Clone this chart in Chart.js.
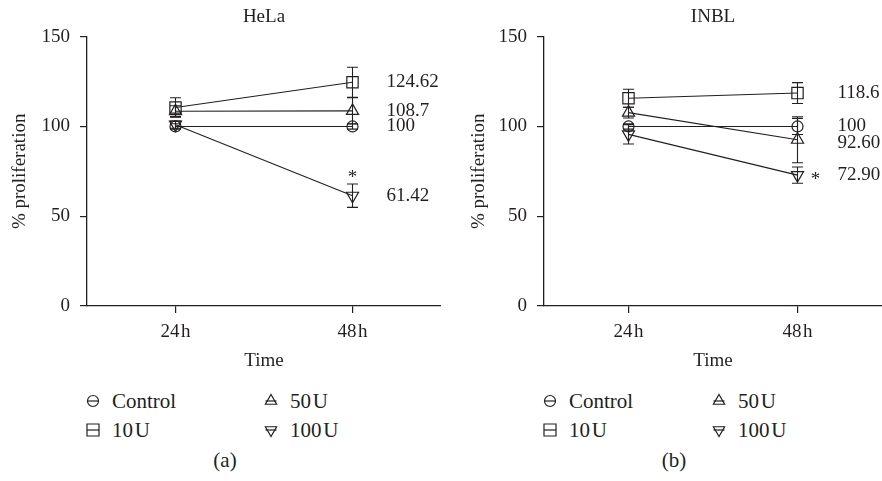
<!DOCTYPE html>
<html>
<head>
<meta charset="utf-8">
<script src="https://cdn.jsdelivr.net/npm/chart.js@4.4.1/dist/chart.umd.min.js"></script>
<style>
  body { margin: 0; background: #fff; width: 882px; height: 481px; position: relative; overflow: hidden;
         font-family: 'Liberation Serif', serif; color: #231f20; }
  .panel { position: absolute; top: 0; width: 441px; height: 380px; }
  .txt { position: absolute; font-size: 21px; line-height: 22px; white-space: nowrap; transform: translateY(-50%); }
  .mk { position: absolute; width: 20px; height: 20px; }
</style>
</head>
<body>
<div class="panel" style="left:0"><canvas id="chartHela" width="441" height="380"></canvas></div>
<div class="panel" style="left:441px"><canvas id="chartInbl" width="441" height="380"></canvas></div>
<div id="legends"></div>
<script>
const timeLabels = ['24\u200ah', '48\u200ah'];
const timePos = [1, 3];
const seriesNames = ['Control', '10\u200aU', '50\u200aU', '100\u200aU'];

// HeLa
const helaControl = [100, 100];
const hela10U = [110.6, 124.62];
const hela50U = [108.5, 108.7];
const hela100U = [101, 61.42];
const helaControlErr = [1.5, 1.5];
const hela10UErr = [5.4, 8.4];
const hela50UErr = [3, 7.3];
const hela100UErr = [2, 6.5];
const helaEndLabels = ['100', '124.62', '108.7', '61.42'];
const helaStarSeries = [3];
const helaStarTime = [1];

// INBL
const inblControl = [100, 100];
const inbl10U = [115.7, 118.6];
const inbl50U = [107.7, 92.6];
const inbl100U = [95.6, 72.9];
const inblControlErr = [1.5, 4.5];
const inbl10UErr = [5, 5.8];
const inbl50UErr = [3, 12.8];
const inbl100UErr = [5.4, 4.5];
const inblEndLabels = ['100', '118.6', '92.60', '72.90'];
const inblStarSeries = [3];
const inblStarTime = [1];

const ink = '#231f20';
const FONT = "'Liberation Serif', serif";
const markers = [
  { pointStyle: 'circle', radius: 5.5, rotation: 0 },
  { pointStyle: 'rect', radius: 8, rotation: 0 },
  { pointStyle: 'triangle', radius: 7, rotation: 0 },
  { pointStyle: 'triangle', radius: 7, rotation: 180 }
];

const extrasPlugin = {
  id: 'extras',
  afterDatasetsDraw(chart, args, opts) {
    const ctx = chart.ctx;
    const xs = chart.scales.x, ys = chart.scales.y;
    ctx.save();
    ctx.strokeStyle = ink;
    ctx.lineWidth = 1.1;
    // error bars
    chart.data.datasets.forEach((ds, i) => {
      ds.data.forEach((p, j) => {
        const e = opts.errors[i][j];
        const px = xs.getPixelForValue(p.x);
        const top = ys.getPixelForValue(p.y + e);
        const bot = ys.getPixelForValue(p.y - e);
        ctx.beginPath();
        ctx.moveTo(px, top); ctx.lineTo(px, bot);
        ctx.moveTo(px - 5.5, top); ctx.lineTo(px + 5.5, top);
        ctx.moveTo(px - 5.5, bot); ctx.lineTo(px + 5.5, bot);
        ctx.stroke();
      });
    });
    // end-of-line value labels
    ctx.fillStyle = ink;
    ctx.font = '19px ' + FONT;
    ctx.textAlign = 'left';
    ctx.textBaseline = 'middle';
    chart.data.datasets.forEach((ds, i) => {
      const last = ds.data[ds.data.length - 1];
      ctx.fillText(opts.endLabels[i],
        xs.getPixelForValue(last.x) + opts.labelDx,
        ys.getPixelForValue(last.y) + (opts.labelDy[i] || 0));
    });
    // significance stars
    ctx.textAlign = 'center';
    opts.starSeries.forEach((s, k) => {
      const p = chart.data.datasets[s].data[opts.starTime[k]];
      ctx.fillText('*', xs.getPixelForValue(p.x) + opts.starDx, ys.getPixelForValue(p.y) + opts.starDy);
    });
    ctx.restore();
  }
};

function makeChart(id, title, series, errors, endLabels, starSeries, starTime, yWidth, yTitlePad, extra) {
  const datasets = series.map((vals, i) => ({
    label: seriesNames[i],
    data: vals.map((v, j) => ({ x: timePos[j], y: v })),
    borderColor: ink,
    borderWidth: 1.1,
    pointStyle: markers[i].pointStyle,
    pointRadius: markers[i].radius,
    pointRotation: markers[i].rotation,
    pointBorderColor: ink,
    pointBackgroundColor: 'rgba(0,0,0,0)',
    pointBorderWidth: 1.2,
    tension: 0,
    fill: false,
    clip: false
  }));
  return new Chart(document.getElementById(id), {
    type: 'line',
    data: { datasets },
    options: {
      responsive: false,
      animation: false,
      events: [],
      layout: { autoPadding: false, padding: 0 },
      plugins: {
        legend: { display: false },
        tooltip: { enabled: false },
        title: {
          display: true, text: title, color: ink, fullSize: false,
          font: { family: FONT, size: 19, weight: 'normal' },
          padding: { top: 5.6, bottom: 8.3 }
        },
        extras: Object.assign({ errors, endLabels, starSeries, starTime }, extra)
      },
      scales: {
        x: {
          type: 'linear', min: 0, max: 4,
          afterBuildTicks: s => { s.ticks = timePos.map(v => ({ value: v })); },
          afterFit: s => { s.height = 74; s.paddingLeft = 0; s.paddingRight = 0; },
          ticks: {
            color: ink, padding: 8, maxRotation: 0,
            font: { family: FONT, size: 19 },
            callback: v => timeLabels[timePos.indexOf(v)]
          },
          grid: { drawOnChartArea: false, drawTicks: true, tickLength: 7, color: ink, lineWidth: 1.2 },
          border: { display: true, color: ink, width: 1.3 },
          title: { display: true, text: 'Time', color: ink, font: { family: FONT, size: 19 }, padding: { top: 0, bottom: 7.6 } }
        },
        y: {
          min: 0, max: 150,
          afterFit: s => { s.width = yWidth; },
          ticks: { stepSize: 50, color: ink, padding: 10, font: { family: FONT, size: 19 } },
          grid: { drawOnChartArea: false, drawTicks: true, tickLength: 7, color: ink, lineWidth: 1.2 },
          border: { display: true, color: ink, width: 1.3 },
          title: { display: true, text: '% proliferation', color: ink, font: { family: FONT, size: 19 }, padding: { top: yTitlePad, bottom: 0 } }
        }
      }
    },
    plugins: [extrasPlugin]
  });
}

makeChart('chartHela', 'HeLa',
  [helaControl, hela10U, hela50U, hela100U],
  [helaControlErr, hela10UErr, hela50UErr, hela100UErr],
  helaEndLabels, helaStarSeries, helaStarTime, 87, 8.6,
  { labelDx: 34, labelDy: [0, 0, 0, 0], starDx: 0, starDy: -18 });

makeChart('chartInbl', 'INBL',
  [inblControl, inbl10U, inbl50U, inbl100U],
  [inblControlErr, inbl10UErr, inbl50UErr, inbl100UErr],
  inblEndLabels, inblStarSeries, inblStarTime, 103, 26.6,
  { labelDx: 40, labelDy: [0, 0, 3, 0], starDx: 18, starDy: 5 });

// legends and captions
const legendPanels = [
  { left: 0, cols: [93, 271], caption: '(a)', capX: 225 },
  { left: 441, cols: [109, 278], caption: '(b)', capX: 233 }
];
const legendRows = [401, 430];
const legendSlot = [[0, 0], [0, 1], [1, 0], [1, 1]]; // [col,row] for each series
const legendMarkers = [
  { pointStyle: 'circle', radius: 5.5, rotation: 0, half: 5.5 },
  { pointStyle: 'rect', radius: 8.5, rotation: 0, half: 6 },
  { pointStyle: 'triangle', radius: 6.5, rotation: 0, half: 5.5 },
  { pointStyle: 'triangle', radius: 6.5, rotation: 180, half: 5.5 }
];
const host = document.getElementById('legends');
legendPanels.forEach(p => {
  seriesNames.forEach((name, i) => {
    const cx = p.left + p.cols[legendSlot[i][0]];
    const cy = legendRows[legendSlot[i][1]];
    const c = document.createElement('canvas');
    c.className = 'mk'; c.width = 20; c.height = 20;
    c.style.left = (cx - 10) + 'px'; c.style.top = (cy - 10) + 'px';
    host.appendChild(c);
    const g = c.getContext('2d');
    g.strokeStyle = ink; g.fillStyle = 'rgba(0,0,0,0)'; g.lineWidth = 1.2;
    const m = legendMarkers[i];
    Chart.helpers.drawPoint(g, { pointStyle: m.pointStyle, radius: m.radius, rotation: m.rotation, borderWidth: 1.2 }, 10, 10);
    g.beginPath(); g.moveTo(10 - m.half, 10); g.lineTo(10 + m.half, 10); g.stroke();
    const t = document.createElement('div');
    t.className = 'txt'; t.textContent = name;
    t.style.left = (cx + 19) + 'px'; t.style.top = cy + 'px';
    host.appendChild(t);
  });
  const cap = document.createElement('div');
  cap.className = 'txt'; cap.textContent = p.caption;
  cap.style.left = (p.left + p.capX) + 'px'; cap.style.top = '460px';
  cap.style.transform = 'translate(-50%,-50%)';
  host.appendChild(cap);
});
</script>
</body>
</html>
